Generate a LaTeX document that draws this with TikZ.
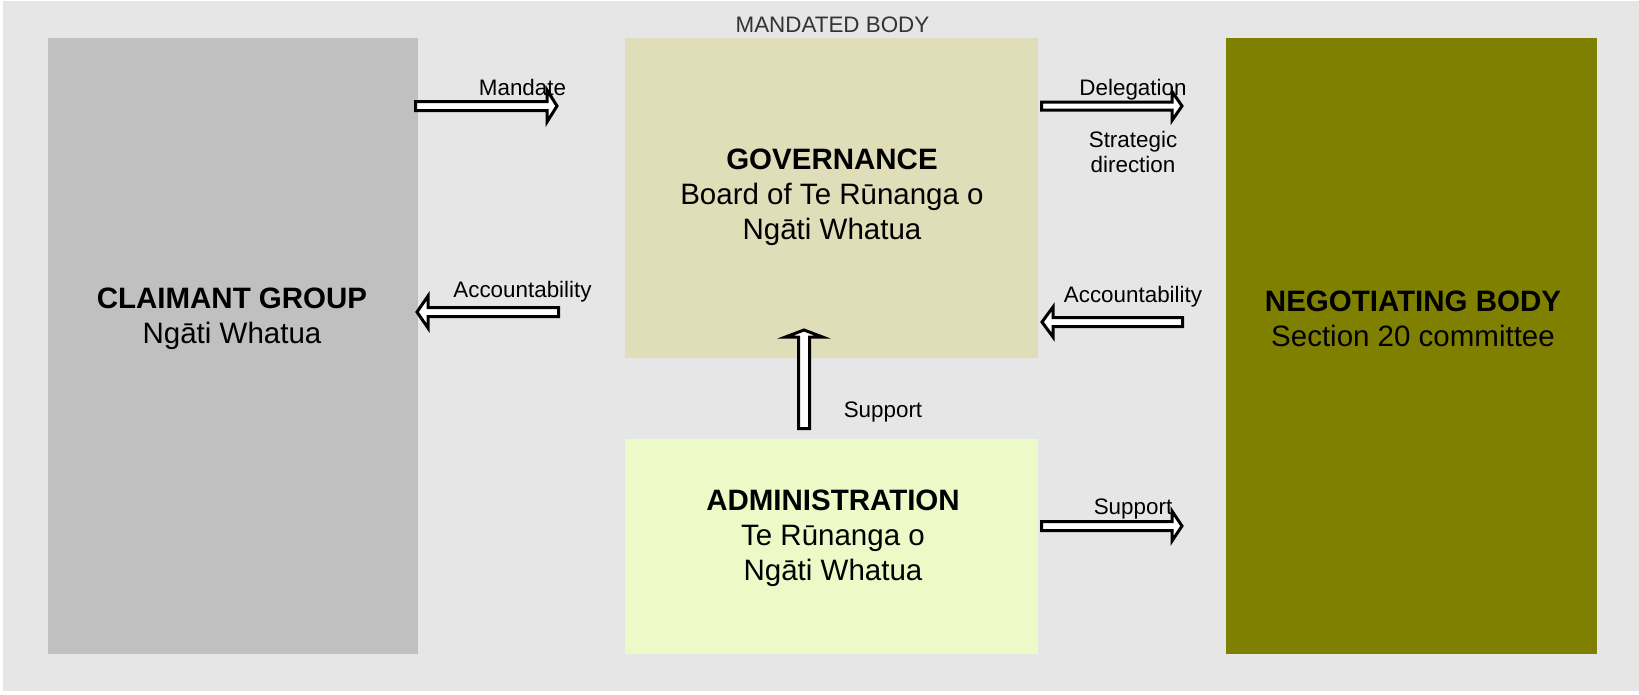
\documentclass[tikz,border=0pt]{standalone}
\usepackage{fontspec}
\setmainfont{Liberation Sans}
\definecolor{bgcol}{HTML}{E6E6E6}
\definecolor{claimcol}{HTML}{C0C0C0}
\definecolor{govcol}{HTML}{E0DDB9}
\definecolor{admcol}{HTML}{EEF9C8}
\definecolor{negcol}{HTML}{808000}
\definecolor{topcol}{HTML}{333333}
\tikzset{
  box/.style={draw=none, inner sep=0pt, outer sep=0pt, anchor=north west},
  boxtext/.style={inner sep=0pt, align=center, font=\fontsize{29.5}{35}\selectfont},
  lbl/.style={inner sep=0pt, anchor=base, font=\fontsize{22.4}{25}\selectfont},
  arrowline/.style={draw=black, fill=white, line width=3pt, line join=miter},
  pics/blockarrow/.style n args={4}{code={
    \draw[arrowline] ({-#1+1.5},{#2-1.5}) -- ({-#4},{#2-1.5}) -- ({-#4},{#3-1.5})
      -- (-2,0) -- ({-#4},{-#3+1.5}) -- ({-#4},{-#2+1.5}) -- ({-#1+1.5},{-#2+1.5}) -- cycle;
    \coordinate (-tip) at (0,0);
  }}
}
\begin{document}
\begin{tikzpicture}[x=1pt,y=-1pt]
\useasboundingbox (0,0) rectangle (1639,694);
\fill[bgcol] (3,1) rectangle (1639,691);
% boxes
\node[box, fill=claimcol, minimum width=370pt, minimum height=616.4pt] (claimant) at (48,37.6) {};
\node[box, fill=govcol, minimum width=413pt, minimum height=320.4pt] (gov) at (625,37.6) {};
\node[box, fill=admcol, minimum width=413pt, minimum height=215pt] (adm) at (625,439) {};
\node[box, fill=negcol, minimum width=371pt, minimum height=616.4pt] (neg) at (1226,37.6) {};
% box texts
\node[boxtext] (claimanttext) at (232,318.5) {\textbf{CLAIMANT GROUP}\\Ngāti Whatua};
\node[boxtext] (govtext) at (832,197) {\textbf{GOVERNANCE}\\Board of Te Rūnanga o\\Ngāti Whatua};
\node[boxtext] (admtext) at (833,538.5) {\textbf{ADMINISTRATION}\\Te Rūnanga o\\Ngāti Whatua};
\node[boxtext] (negtext) at (1413,319) {\textbf{NEGOTIATING BODY}\\Section 20 committee};
\node[lbl, text=topcol] (mandbody) at (832.5,32) {MANDATED BODY};
% block arrows
\pic (mandate) at (559,106) {blockarrow={145}{6}{17.5}{12}};
\pic (deleg) at (1184,106) {blockarrow={144}{5.5}{16}{12}};
\pic[rotate=180] (accl) at (415,312) {blockarrow={145}{6}{17.5}{13}};
\pic[rotate=180] (accr) at (1040,322) {blockarrow={144}{6}{16.5}{13}};
\pic[rotate=90] (supup) at (804,328) {blockarrow={102}{7}{20}{9}};
\pic (supr) at (1184,526) {blockarrow={144}{6}{16.5}{12}};
% labels
\node[lbl] (mandatelbl) at (522.5,95) {Mandate};
\node[lbl] (deleglbl) at (1133,95) {Delegation};
\node[inner sep=0pt, align=center, font=\fontsize{22.4}{25}\selectfont] (stratlbl) at (1133,151.5) {Strategic\\direction};
\node[lbl] (acclbl) at (522.5,297) {Accountability};
\node[lbl] (accrlbl) at (1133,302) {Accountability};
\node[lbl] (supuplbl) at (883,417) {Support};
\node[lbl] (suprlbl) at (1133,514) {Support};
\end{tikzpicture}
\end{document}
